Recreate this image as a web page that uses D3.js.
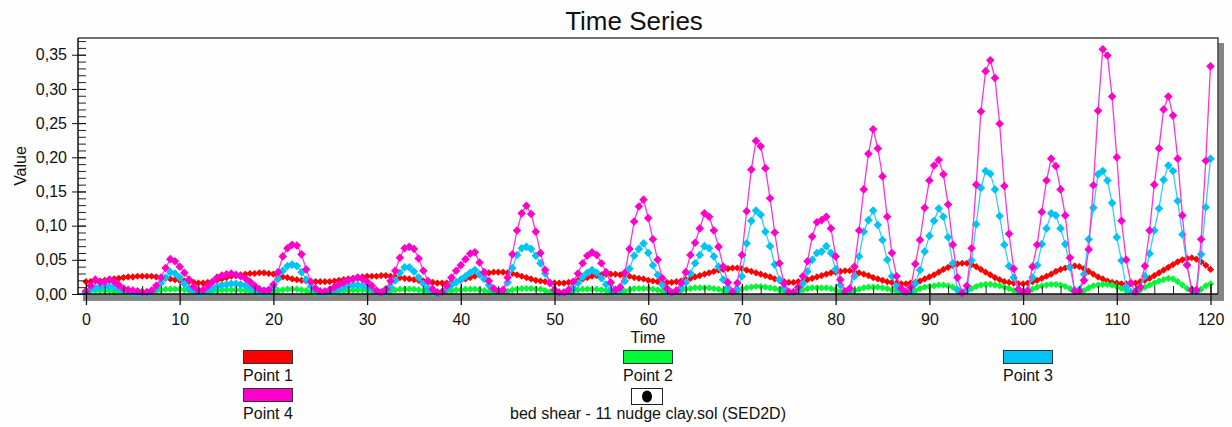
<!DOCTYPE html>
<html>
<head>
<meta charset="utf-8">
<script src="https://cdn.jsdelivr.net/npm/d3@7"></script>
<style>
  body { margin: 0; background: #fefefe; }
  text { font-family: "Liberation Sans", Arial, sans-serif; fill: #111; }
</style>
</head>
<body>
<script>
// samples every 0.5 time units, t = 0 .. 120
const timeStep = 0.5;

const seriesNames = ["Point 1", "Point 2", "Point 3", "Point 4"];
const seriesColors = ["#ff0000", "#00f834", "#00c4f4", "#ff00cc"];
const lineColors = ["#ff2020", "#22f444", "#33ccff", "#ff33dd"];

const point1 = [
  0.018,0.018,0.019,0.019,0.020,0.021,0.022,0.023,0.024,0.025,0.025,0.026,0.026,0.026,0.026,0.025,0.024,0.023,0.022,0.021,
  0.020,0.019,0.018,0.017,0.016,0.016,0.017,0.018,0.020,0.022,0.024,0.026,0.027,0.028,0.029,0.030,0.030,0.031,0.031,0.030,
  0.029,0.027,0.025,0.024,0.022,0.021,0.020,0.019,0.018,0.018,0.018,0.018,0.018,0.019,0.020,0.021,0.022,0.023,0.024,0.025,
  0.026,0.026,0.026,0.027,0.027,0.026,0.025,0.024,0.023,0.022,0.021,0.020,0.019,0.018,0.017,0.016,0.016,0.016,0.017,0.018,
  0.020,0.022,0.024,0.026,0.028,0.030,0.031,0.032,0.032,0.032,0.031,0.030,0.028,0.026,0.024,0.022,0.020,0.019,0.018,0.017,
  0.016,0.016,0.016,0.017,0.018,0.020,0.022,0.024,0.026,0.027,0.028,0.029,0.029,0.029,0.028,0.027,0.026,0.024,0.023,0.022,
  0.020,0.019,0.018,0.017,0.017,0.017,0.018,0.019,0.021,0.023,0.025,0.027,0.029,0.031,0.033,0.035,0.036,0.037,0.038,0.038,
  0.037,0.035,0.033,0.031,0.029,0.027,0.025,0.022,0.020,0.018,0.017,0.017,0.018,0.019,0.021,0.023,0.025,0.027,0.029,0.031,
  0.032,0.033,0.034,0.034,0.033,0.031,0.029,0.027,0.024,0.022,0.020,0.018,0.017,0.016,0.015,0.015,0.016,0.017,0.019,0.022,
  0.025,0.028,0.032,0.036,0.039,0.042,0.044,0.045,0.045,0.043,0.040,0.036,0.032,0.028,0.024,0.021,0.018,0.017,0.016,0.015,
  0.015,0.016,0.018,0.020,0.023,0.026,0.029,0.033,0.036,0.038,0.040,0.041,0.040,0.037,0.033,0.029,0.025,0.022,0.019,0.017,
  0.016,0.015,0.015,0.015,0.016,0.018,0.020,0.023,0.027,0.031,0.035,0.039,0.043,0.047,0.050,0.052,0.053,0.051,0.047,0.042,
  0.036
];

const point2 = [
  0.004,0.005,0.005,0.005,0.005,0.005,0.004,0.003,0.002,0.001,0.001,0.001,0.001,0.001,0.002,0.004,0.006,0.007,0.007,0.007,
  0.007,0.006,0.005,0.003,0.001,0.001,0.002,0.004,0.005,0.006,0.006,0.006,0.006,0.006,0.005,0.004,0.003,0.001,0.001,0.001,
  0.003,0.005,0.006,0.007,0.007,0.007,0.006,0.005,0.003,0.001,0.001,0.001,0.001,0.002,0.004,0.005,0.005,0.006,0.006,0.006,
  0.005,0.004,0.002,0.001,0.002,0.004,0.006,0.007,0.007,0.007,0.007,0.006,0.005,0.003,0.001,0.001,0.002,0.004,0.005,0.006,
  0.006,0.007,0.007,0.007,0.006,0.005,0.004,0.002,0.001,0.002,0.004,0.006,0.007,0.008,0.008,0.008,0.007,0.007,0.005,0.003,
  0.001,0.001,0.001,0.002,0.004,0.006,0.007,0.007,0.007,0.007,0.006,0.005,0.003,0.001,0.002,0.004,0.006,0.008,0.008,0.008,
  0.008,0.007,0.006,0.004,0.002,0.001,0.002,0.005,0.007,0.008,0.009,0.009,0.009,0.009,0.008,0.007,0.005,0.003,0.001,0.003,
  0.007,0.009,0.010,0.011,0.011,0.010,0.009,0.008,0.006,0.003,0.001,0.001,0.003,0.006,0.008,0.009,0.009,0.009,0.009,0.008,
  0.006,0.003,0.001,0.002,0.005,0.007,0.009,0.010,0.010,0.010,0.009,0.008,0.006,0.004,0.002,0.001,0.002,0.005,0.008,0.010,
  0.011,0.012,0.013,0.013,0.012,0.010,0.006,0.003,0.004,0.008,0.011,0.013,0.014,0.014,0.013,0.012,0.010,0.008,0.005,0.003,
  0.002,0.003,0.007,0.010,0.012,0.013,0.014,0.014,0.013,0.011,0.008,0.004,0.002,0.005,0.009,0.012,0.013,0.014,0.014,0.013,
  0.011,0.008,0.005,0.003,0.003,0.006,0.010,0.013,0.016,0.019,0.021,0.023,0.022,0.018,0.013,0.008,0.004,0.003,0.007,0.012,
  0.015
];

const point3 = [
  0.002,0.006,0.009,0.010,0.011,0.011,0.010,0.008,0.005,0.003,0.002,0.001,0.001,0.001,0.003,0.009,0.016,0.024,0.032,0.030,
  0.024,0.015,0.008,0.004,0.002,0.002,0.005,0.008,0.011,0.013,0.014,0.015,0.015,0.014,0.012,0.009,0.006,0.003,0.002,0.003,
  0.010,0.022,0.034,0.041,0.043,0.041,0.032,0.021,0.011,0.005,0.002,0.002,0.003,0.005,0.007,0.010,0.012,0.013,0.013,0.012,
  0.010,0.007,0.004,0.002,0.004,0.010,0.020,0.031,0.039,0.039,0.033,0.024,0.015,0.008,0.004,0.002,0.003,0.008,0.013,0.017,
  0.021,0.026,0.031,0.035,0.029,0.022,0.013,0.007,0.003,0.005,0.017,0.038,0.057,0.067,0.069,0.066,0.056,0.045,0.030,0.016,
  0.006,0.002,0.002,0.003,0.008,0.016,0.025,0.031,0.035,0.031,0.023,0.014,0.006,0.003,0.007,0.019,0.037,0.056,0.066,0.074,
  0.060,0.042,0.028,0.014,0.005,0.002,0.004,0.009,0.017,0.030,0.045,0.057,0.070,0.067,0.055,0.040,0.021,0.009,0.003,0.007,
  0.026,0.074,0.107,0.122,0.116,0.091,0.070,0.043,0.021,0.009,0.003,0.002,0.005,0.015,0.033,0.050,0.060,0.062,0.070,0.060,
  0.036,0.013,0.003,0.006,0.026,0.055,0.091,0.108,0.122,0.101,0.079,0.050,0.026,0.011,0.005,0.002,0.004,0.015,0.035,0.062,
  0.085,0.107,0.125,0.113,0.083,0.045,0.006,0.002,0.006,0.049,0.102,0.155,0.180,0.176,0.153,0.114,0.072,0.041,0.024,0.006,
  0.003,0.006,0.024,0.042,0.073,0.096,0.118,0.115,0.096,0.073,0.039,0.006,0.006,0.029,0.080,0.126,0.175,0.180,0.166,0.133,
  0.083,0.049,0.010,0.003,0.004,0.010,0.026,0.059,0.093,0.125,0.167,0.188,0.180,0.136,0.087,0.043,0.006,0.003,0.058,0.127,
  0.198
];

const point4 = [
  0.004,0.012,0.021,0.017,0.018,0.021,0.018,0.013,0.008,0.006,0.005,0.004,0.003,0.003,0.005,0.012,0.024,0.038,0.051,0.048,
  0.040,0.031,0.021,0.011,0.005,0.006,0.012,0.018,0.024,0.027,0.029,0.030,0.028,0.026,0.023,0.018,0.012,0.007,0.005,0.006,
  0.014,0.032,0.055,0.067,0.072,0.071,0.058,0.036,0.018,0.008,0.004,0.004,0.006,0.010,0.014,0.017,0.020,0.022,0.024,0.022,
  0.018,0.012,0.005,0.002,0.007,0.019,0.034,0.053,0.067,0.069,0.066,0.052,0.034,0.019,0.007,0.002,0.003,0.012,0.024,0.034,
  0.042,0.051,0.059,0.061,0.046,0.032,0.019,0.008,0.004,0.006,0.024,0.058,0.093,0.118,0.129,0.117,0.091,0.060,0.035,0.016,
  0.006,0.002,0.002,0.006,0.018,0.030,0.045,0.056,0.061,0.057,0.045,0.032,0.017,0.006,0.010,0.031,0.066,0.106,0.128,0.138,
  0.111,0.080,0.050,0.023,0.008,0.002,0.005,0.016,0.032,0.057,0.075,0.096,0.118,0.113,0.093,0.069,0.040,0.017,0.003,0.016,
  0.057,0.121,0.182,0.224,0.216,0.184,0.140,0.090,0.045,0.015,0.003,0.003,0.010,0.026,0.048,0.084,0.105,0.108,0.113,0.096,
  0.055,0.021,0.004,0.008,0.040,0.093,0.153,0.205,0.241,0.213,0.172,0.113,0.060,0.026,0.008,0.003,0.010,0.044,0.079,0.126,
  0.166,0.188,0.196,0.175,0.131,0.072,0.024,0.001,0.012,0.067,0.160,0.267,0.326,0.342,0.316,0.249,0.158,0.088,0.037,0.007,
  0.003,0.004,0.040,0.072,0.120,0.166,0.198,0.187,0.153,0.115,0.053,0.004,0.004,0.020,0.065,0.159,0.268,0.358,0.349,0.289,
  0.200,0.107,0.050,0.016,0.003,0.010,0.041,0.093,0.160,0.213,0.270,0.289,0.261,0.198,0.115,0.042,0.006,0.006,0.080,0.195,
  0.333
];

const allSeries = [point1, point2, point3, point4];
const markerSizes = [3.6, 3.6, 4.3, 4.3];

const xTicks = [0, 10, 20, 30, 40, 50, 60, 70, 80, 90, 100, 110, 120];
const yTicks = [0, 0.05, 0.10, 0.15, 0.20, 0.25, 0.30, 0.35];

const W = 1232, H = 427;
const plot = { left: 78, right: 1218, top: 38, bottom: 294 };

const svg = d3.select("body").append("svg")
    .attr("width", W)
    .attr("height", H);

const x = d3.scaleLinear().domain([-0.85, 120.8]).range([plot.left, plot.right]);
const y = d3.scaleLinear().domain([0, 0.3745]).range([plot.bottom, plot.top]);

// drop shadow + plot background
svg.append("rect")
    .attr("x", plot.left + 5).attr("y", plot.top + 5)
    .attr("width", plot.right - plot.left + 1).attr("height", plot.bottom - plot.top + 2)
    .attr("fill", "#858585");
svg.append("rect")
    .attr("x", plot.left).attr("y", plot.top)
    .attr("width", plot.right - plot.left).attr("height", plot.bottom - plot.top)
    .attr("fill", "#fefefe");

// frame top / right
svg.append("path")
    .attr("d", `M${plot.left},${plot.top}H${plot.right}V${plot.bottom}`)
    .attr("fill", "none").attr("stroke", "#444").attr("stroke-width", 1.5);

// series
const diamond = r => `M0,${-r}L${r},0L0,${r}L${-r},0Z`;

allSeries.forEach((vals, si) => {
    const pts = vals.map((v, i) => [i * timeStep, v]);
    svg.append("path")
        .datum(pts)
        .attr("fill", "none")
        .attr("stroke", lineColors[si])
        .attr("stroke-width", si < 2 ? 1.5 : 1.3)
        .attr("d", d3.line().x(d => x(d[0])).y(d => y(d[1])));
    svg.append("g")
        .selectAll("path")
        .data(pts)
        .join("path")
        .attr("transform", d => `translate(${x(d[0])},${y(d[1])})`)
        .attr("d", diamond(markerSizes[si]))
        .attr("fill", seriesColors[si]);
});

// axes
const xAxis = svg.append("g").attr("transform", `translate(0,${plot.bottom})`);
xAxis.append("g")
    .call(d3.axisBottom(x).tickValues(d3.range(0, 121, 2)).tickSize(-8).tickFormat(""))
    .call(g => g.select(".domain").remove())
    .call(g => g.selectAll("line").attr("stroke", "#222"));
xAxis.append("g")
    .call(d3.axisBottom(x).tickValues(xTicks).tickSize(11).tickPadding(9))
    .call(g => g.select(".domain").attr("d", `M${plot.left},0H${plot.right}`).attr("stroke", "#111").attr("stroke-width", 1.5))
    .call(g => g.selectAll("line").attr("stroke", "#111").attr("y1", -10).attr("stroke-width", 1.3))
    .call(g => g.selectAll("text").style("font-size", "16px").attr("fill", "#111"));

const yAxis = svg.append("g").attr("transform", `translate(${plot.left},0)`);
yAxis.append("g")
    .call(d3.axisLeft(y).tickValues(d3.range(0, 0.371, 0.01)).tickSize(-8).tickFormat(""))
    .call(g => g.select(".domain").remove())
    .call(g => g.selectAll("line").attr("stroke", "#222"));
yAxis.append("g")
    .call(d3.axisLeft(y).tickValues(yTicks).tickSize(6).tickPadding(5)
        .tickFormat(d => d3.format(".2f")(d).replace(".", ",")))
    .call(g => g.select(".domain").attr("d", `M0,${plot.top}V${plot.bottom}`).attr("stroke", "#111").attr("stroke-width", 1.5))
    .call(g => g.selectAll("line").attr("stroke", "#111").attr("x2", 8).attr("x1", -6))
    .call(g => g.selectAll("text").style("font-size", "16px").attr("fill", "#111"));

// titles
svg.append("text")
    .attr("x", 634).attr("y", 30)
    .attr("text-anchor", "middle")
    .style("font-size", "26px")
    .text("Time Series");

svg.append("text")
    .attr("x", (plot.left + plot.right) / 2).attr("y", 343)
    .attr("text-anchor", "middle")
    .style("font-size", "16px")
    .text("Time");

svg.append("text")
    .attr("transform", `translate(26,${(plot.top + plot.bottom) / 2}) rotate(-90)`)
    .attr("text-anchor", "middle")
    .style("font-size", "16px")
    .text("Value");

// legend
const legendPos = [[268, 350], [648, 350], [1028, 350], [268, 388]];
seriesNames.forEach((name, i) => {
    const [cx, ty] = legendPos[i];
    svg.append("rect")
        .attr("x", cx - 24.5).attr("y", ty + 0.5)
        .attr("width", 49).attr("height", 13)
        .attr("fill", seriesColors[i])
        .attr("stroke", "#333");
    svg.append("text")
        .attr("x", cx).attr("y", ty + 31)
        .attr("text-anchor", "middle")
        .style("font-size", "16px")
        .text(name);
});

const fileItem = svg.append("g").attr("transform", "translate(647,388)");
fileItem.append("rect")
    .attr("x", -15.5).attr("y", 0.5)
    .attr("width", 31).attr("height", 16)
    .attr("fill", "#fff").attr("stroke", "#222");
fileItem.append("ellipse")
    .attr("cx", 0).attr("cy", 8.5).attr("rx", 5).attr("ry", 6)
    .attr("fill", "#000");
svg.append("text")
    .attr("x", 648).attr("y", 419)
    .attr("text-anchor", "middle")
    .style("font-size", "16px")
    .text("bed shear - 11 nudge clay.sol (SED2D)");
</script>
</body>
</html>
